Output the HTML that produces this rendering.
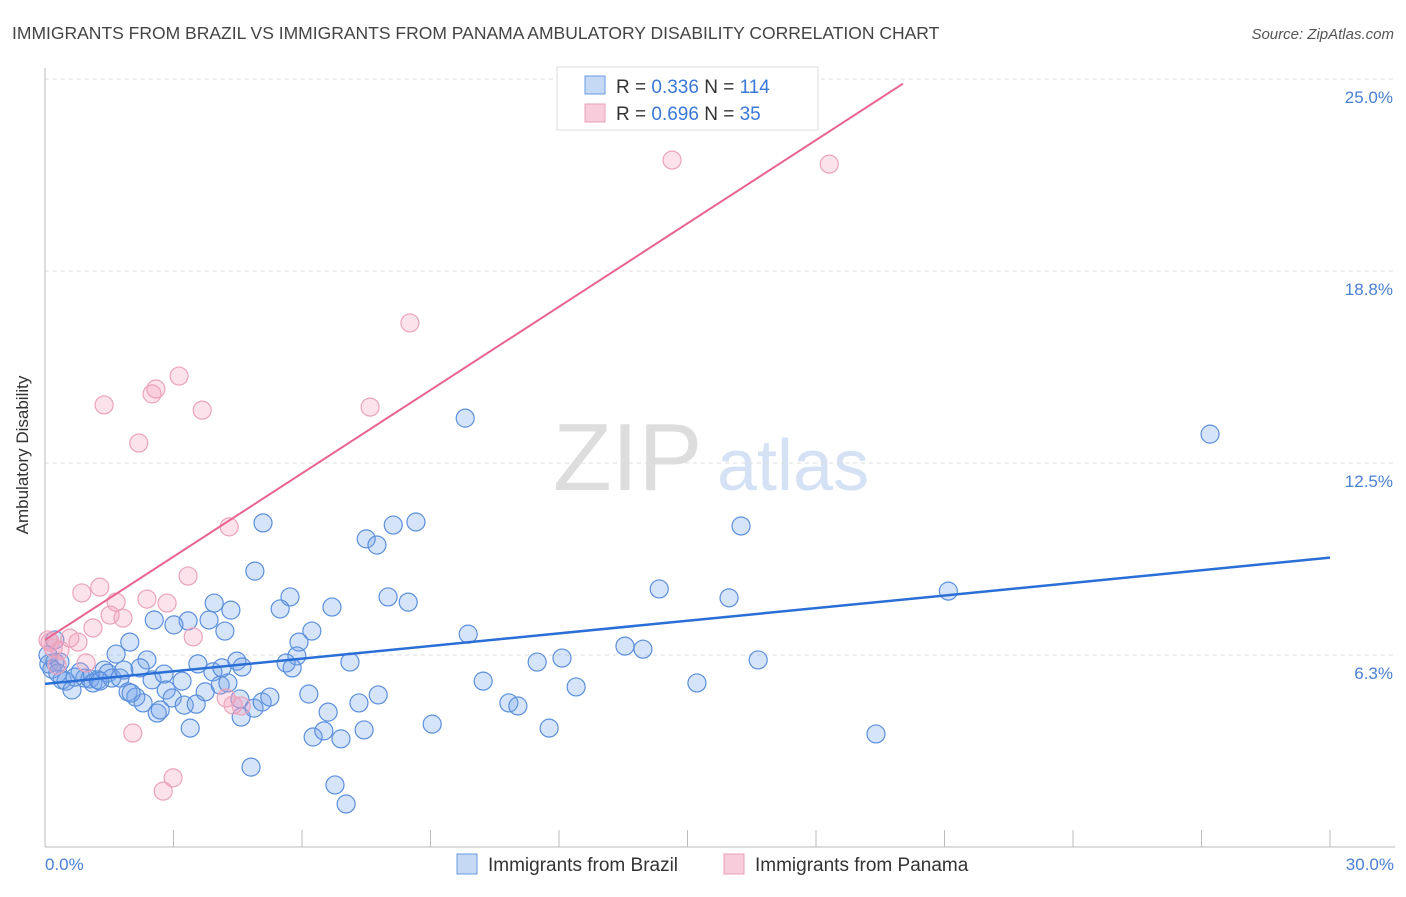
<!DOCTYPE html>
<html><head><meta charset="utf-8"><style>
body{margin:0;background:#fff;font-family:"Liberation Sans",sans-serif;}
svg text{font-family:"Liberation Sans",sans-serif;}
</style></head><body>
<svg id="chart" width="1406" height="892">
<text x="12" y="39" font-size="17.5" fill="#444">IMMIGRANTS FROM BRAZIL VS IMMIGRANTS FROM PANAMA AMBULATORY DISABILITY CORRELATION CHART</text>
<text x="1394" y="39" font-size="15" fill="#555" font-style="italic" text-anchor="end">Source: ZipAtlas.com</text>
<g><text x="553" y="490" font-size="96" fill="#ddd" font-family="Liberation Serif">ZIP</text><text x="717" y="490" font-size="72" fill="#d5e2f5">atlas</text></g>
<g id="grid"></g><g id="axes"></g><g id="pts"></g><g id="trend"></g>
<text x="28" y="455" font-size="17" fill="#333" text-anchor="middle" transform="rotate(-90 28 455)">Ambulatory Disability</text>
<text x="45" y="870" font-size="17" fill="#4a7fd4">0.0%</text>
<text x="1394" y="870" font-size="17" fill="#4a7fd4" text-anchor="end">30.0%</text>
<g>
<rect x="557" y="67" width="261" height="63" fill="#fff" stroke="#ddd"/>
<rect x="585" y="76" width="20" height="18" fill="#c5d9f5" stroke="#6b9be0"/>
<rect x="585" y="104" width="20" height="18" fill="#f9ccdb" stroke="#eaa0b8"/>
<text x="616" y="93" font-size="19" fill="#333">R = <tspan fill="#3a78d8">0.336</tspan>   N = <tspan fill="#3a78d8">114</tspan></text>
<text x="616" y="120" font-size="19" fill="#333">R = <tspan fill="#3a78d8">0.696</tspan>   N = <tspan fill="#3a78d8"> 35</tspan></text>
</g>
<g>
<rect x="457" y="854" width="20" height="20" fill="#c5d9f5" stroke="#6b9be0"/>
<text x="488" y="871" font-size="19" fill="#333">Immigrants from Brazil</text>
<rect x="724" y="854" width="20" height="20" fill="#f9ccdb" stroke="#eaa0b8"/>
<text x="755" y="871" font-size="19" fill="#333">Immigrants from Panama</text>
</g>
</svg>
<script>
const yTicks=[25.0,18.8,12.5,6.3];
const yTickVals=[25,18.75,12.5,6.25];
const brazilX=[9.81,27.20,5.09,16.25,8.66,8.13,7.50,7.75,4.90,14.34,21.09,15.97,8.01,8.48,5.72,3.95,4.34,5.49,6.70,2.55,3.34,3.01,3.83,4.20,6.23,9.88,1.98,5.93,5.88,13.54,13.96,16.65,11.49,12.07,7.12,1.66,2.38,3.57,4.48,5.63,5.77,0.09,0.23,0.35,0.16,0.40,0.49,0.63,0.82,0.93,1.05,1.12,1.24,1.38,1.47,1.56,1.75,1.84,2.22,2.50,2.78,2.83,2.97,3.20,3.25,3.53,3.74,3.92,4.09,4.27,4.13,4.60,1.94,2.12,2.29,2.62,2.69,3.39,4.58,4.55,4.88,5.07,5.25,6.16,6.61,7.33,7.78,10.23,12.40,15.22,10.83,11.04,9.04,11.77,19.40,6.26,6.51,6.91,7.45,4.81,6.77,7.03,0.30,0.70,1.28,2.01,0.07,0.23];
const brazilY=[13.96,13.44,10.55,10.45,10.58,10.48,10.03,9.83,8.98,8.40,8.33,8.11,8.14,7.97,8.14,7.94,7.71,7.75,7.81,7.39,7.36,7.23,7.39,7.03,7.03,6.93,6.67,6.67,6.22,6.54,6.44,6.09,6.02,6.15,6.02,6.28,6.09,5.96,6.05,5.99,5.83,5.96,6.02,6.02,5.79,5.44,5.40,5.11,5.70,5.50,5.47,5.34,5.44,5.76,5.66,5.50,5.50,5.76,5.83,5.44,5.63,5.11,4.85,5.40,4.62,4.65,5.05,5.70,5.27,5.34,5.83,5.86,5.05,4.88,4.69,4.36,4.46,3.87,4.23,4.82,4.52,4.72,4.88,4.98,4.39,4.69,4.95,5.40,5.21,5.34,4.69,4.59,4.00,3.87,3.68,3.58,3.78,3.52,3.81,2.60,2.02,1.40,5.66,5.53,5.40,5.01,6.25,6.74];
const panamaX=[14.64,18.31,8.52,3.13,2.59,2.50,1.38,3.67,7.59,2.19,4.30,3.34,0.86,1.28,2.38,1.66,2.85,1.52,1.82,1.12,0.58,0.12,0.19,0.35,0.77,3.46,0.96,0.28,4.23,4.39,4.58,2.05,2.99,2.76,0.07];
const panamaY=[22.36,22.23,17.06,15.33,14.91,14.75,14.39,14.22,14.32,13.15,10.42,8.82,8.27,8.46,8.07,7.97,7.94,7.55,7.45,7.13,6.80,6.67,6.48,6.41,6.67,6.84,5.99,5.92,4.85,4.62,4.59,3.71,2.25,1.82,6.74];
const brazilTrend=[5.31,0.137];   // intercept, slope
const panamaTrend=[6.74,0.904];
const panamaTrendEnd=[20.03];
const X0=45,X1=1330,Y0=847;
const sx=v=>X0+v*(X1-X0)/30;
const sy=v=>Y0-v*30.72;
const NS='http://www.w3.org/2000/svg';
function mk(t,a,p){const e=document.createElementNS(NS,t);for(const k in a)e.setAttribute(k,a[k]);p.appendChild(e);return e;}
const grid=document.getElementById('grid'),axes=document.getElementById('axes'),pts=document.getElementById('pts'),tr=document.getElementById('trend');
yTickVals.forEach((v,i)=>{
 const l=mk('line',{x1:45,x2:1395,y1:sy(v),y2:sy(v),stroke:'#ddd','stroke-dasharray':'4,4'},grid);
 
 
 const t=mk('text',{x:1393,y:sy(v)+24,'font-size':17,fill:'#4a7fd4','text-anchor':'end'},grid);
 t.textContent=yTicks[i].toFixed(1)+'%';
 
 
});
const la=mk('line',{x1:45,x2:45,y1:68,y2:847,stroke:'#bbb'},axes);


const ba=mk('line',{x1:45,x2:1395,y1:847,y2:847,stroke:'#bbb'},axes);


for(let v=0;v<=30;v+=3){const tk=mk('line',{x1:sx(v),x2:sx(v),y1:830,y2:847,stroke:'#bbb'},axes);
 
 }
brazilX.forEach((x,i)=>{const c=mk('circle',{cx:sx(x),cy:sy(brazilY[i]),r:9,fill:'rgba(120,165,235,0.3)',stroke:'#5b8fdc','stroke-width':1.2},pts);
 
 });
panamaX.forEach((x,i)=>{const c=mk('circle',{cx:sx(x),cy:sy(panamaY[i]),r:9,fill:'rgba(245,160,190,0.3)',stroke:'#eba3bb','stroke-width':1.2},pts);
 
 });
const bl=mk('line',{x1:sx(0),y1:sy(brazilTrend[0]),x2:sx(30),y2:sy(brazilTrend[0]+30*brazilTrend[1]),stroke:'#2a6fd6','stroke-width':2.5},tr);


const pe=panamaTrendEnd[0];
const pl=mk('line',{x1:sx(0),y1:sy(panamaTrend[0]),x2:sx(pe),y2:sy(panamaTrend[0]+pe*panamaTrend[1]),stroke:'#e8648e','stroke-width':2},tr);


</script>
</body></html>
